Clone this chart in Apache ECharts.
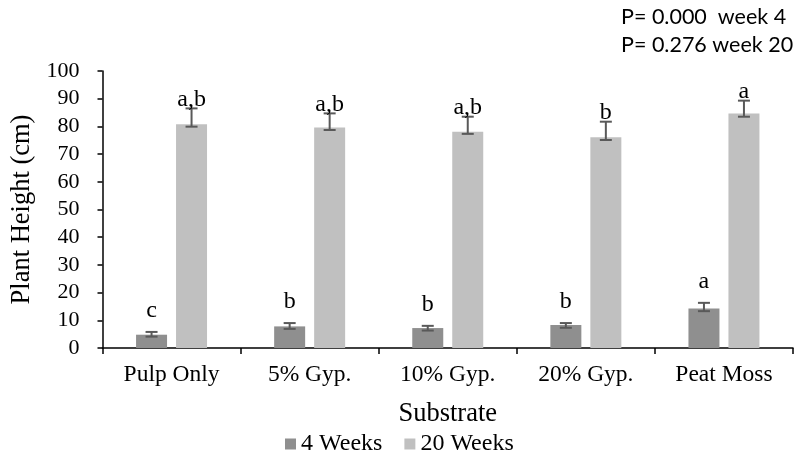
<!DOCTYPE html>
<html>
<head>
<meta charset="utf-8">
<script src="https://cdn.jsdelivr.net/npm/echarts@6/dist/echarts.min.js"></script>
<style>html,body{margin:0;padding:0;background:#fff}#c{width:795px;height:456px}</style>
</head>
<body>
<div id="c"></div>
<script>
const categories = ['Pulp Only', '5% Gyp.', '10% Gyp.', '20% Gyp.', 'Peat Moss'];
const seriesNames = ['4 Weeks', '20 Weeks'];
const weeks4 = [4.8, 7.8, 7.2, 8.3, 14.3];
const weeks20 = [80.8, 79.6, 78.1, 76.1, 84.7];
const err4Low = [4.1, 6.9, 6.3, 7.3, 13.3];
const err4High = [5.8, 9.0, 8.0, 9.0, 16.3];
const err20Low = [79.9, 78.7, 77.3, 75.1, 83.5];
const err20High = [86.5, 84.7, 83.5, 81.7, 89.3];
const letters4 = ['c', 'b', 'b', 'b', 'a'];
const letters20 = ['a,b', 'a,b', 'a,b', 'b', 'a'];
const yTicks = [0, 10, 20, 30, 40, 50, 60, 70, 80, 90, 100];
const pNotes = ['P= 0.000  week 4', 'P= 0.276 week 20'];

const serif = 'Liberation Serif';
const chart = echarts.init(document.getElementById('c'), null, {renderer: 'canvas'});

function errSeries(name, low, high, letters, offset, labelGap) {
  return {
    type: 'custom',
    name: name + ' err',
    z: 5,
    data: categories.map((c, i) => [i, low[i], high[i]]),
    encode: {x: 0, y: [1, 2]},
    renderItem: function (params, api) {
      const i = api.value(0);
      const lo = api.coord([i, api.value(1)]);
      const hi = api.coord([i, api.value(2)]);
      const x = lo[0] + offset;
      const cap = 6;
      const st = {stroke: '#595959', lineWidth: 2};
      return {
        type: 'group',
        children: [
          {type: 'line', shape: {x1: x, y1: lo[1], x2: x, y2: hi[1]}, style: st},
          {type: 'line', shape: {x1: x - cap, y1: lo[1], x2: x + cap, y2: lo[1]}, style: st},
          {type: 'line', shape: {x1: x - cap, y1: hi[1], x2: x + cap, y2: hi[1]}, style: st},
          {type: 'text', z2: 10, style: {
            text: letters[params.dataIndex], x: x, y: hi[1] - labelGap,
            align: 'center', verticalAlign: 'bottom',
            fontFamily: serif, fontSize: 24, fill: '#000'
          }}
        ]
      };
    }
  };
}

chart.setOption({
  animation: false,
  backgroundColor: '#fff',
  textStyle: {fontFamily: serif},
  title: {
    text: pNotes.join('\n'),
    left: 621, top: 3, padding: 0,
    textStyle: {fontFamily: 'Lato', fontSize: 21.5, fontWeight: 'normal', color: '#000', lineHeight: 28}
  },
  grid: {left: 102.5, right: 2, top: 71, bottom: 108, containLabel: false},
  legend: {
    data: seriesNames,
    left: 285, top: 432, padding: 0,
    icon: 'rect', itemWidth: 11, itemHeight: 11, itemGap: 22,
    textStyle: {fontFamily: serif, fontSize: 24, color: '#000'}
  },
  xAxis: {
    type: 'category',
    data: categories,
    axisLine: {lineStyle: {color: '#000', width: 1.5}},
    axisTick: {show: true, alignWithLabel: false, length: 6, lineStyle: {color: '#000', width: 1.5}},
    axisLabel: {interval: 0, margin: 15, fontFamily: serif, fontSize: 23.5, color: '#000'},
    name: 'Substrate',
    nameLocation: 'middle',
    nameGap: 53,
    nameTextStyle: {fontFamily: serif, fontSize: 26.5, color: '#000'}
  },
  yAxis: {
    type: 'value',
    min: yTicks[0], max: yTicks[yTicks.length - 1], interval: yTicks[1] - yTicks[0],
    axisLine: {show: true, lineStyle: {color: '#000', width: 1.5}},
    axisTick: {show: true, inside: false, length: 5, lineStyle: {color: '#000', width: 1.5}},
    splitLine: {show: false},
    axisLabel: {margin: 23, fontFamily: serif, fontSize: 22, color: '#000'},
    name: 'Plant Height (cm)',
    nameLocation: 'middle',
    nameGap: 56,
    nameRotate: 90,
    nameTextStyle: {fontFamily: serif, fontSize: 26.5, color: '#000'}
  },
  series: [
    {name: seriesNames[0], type: 'bar', data: weeks4, barWidth: 31, barGap: '29%', itemStyle: {color: '#8f8f8f'}},
    {name: seriesNames[1], type: 'bar', data: weeks20, barWidth: 31, barGap: '29%', itemStyle: {color: '#c0c0c0'}},
    errSeries(seriesNames[0], err4Low, err4High, letters4, -20, 9),
    errSeries(seriesNames[1], err20Low, err20High, letters20, 20, -3)
  ]
});
</script>
</body>
</html>
